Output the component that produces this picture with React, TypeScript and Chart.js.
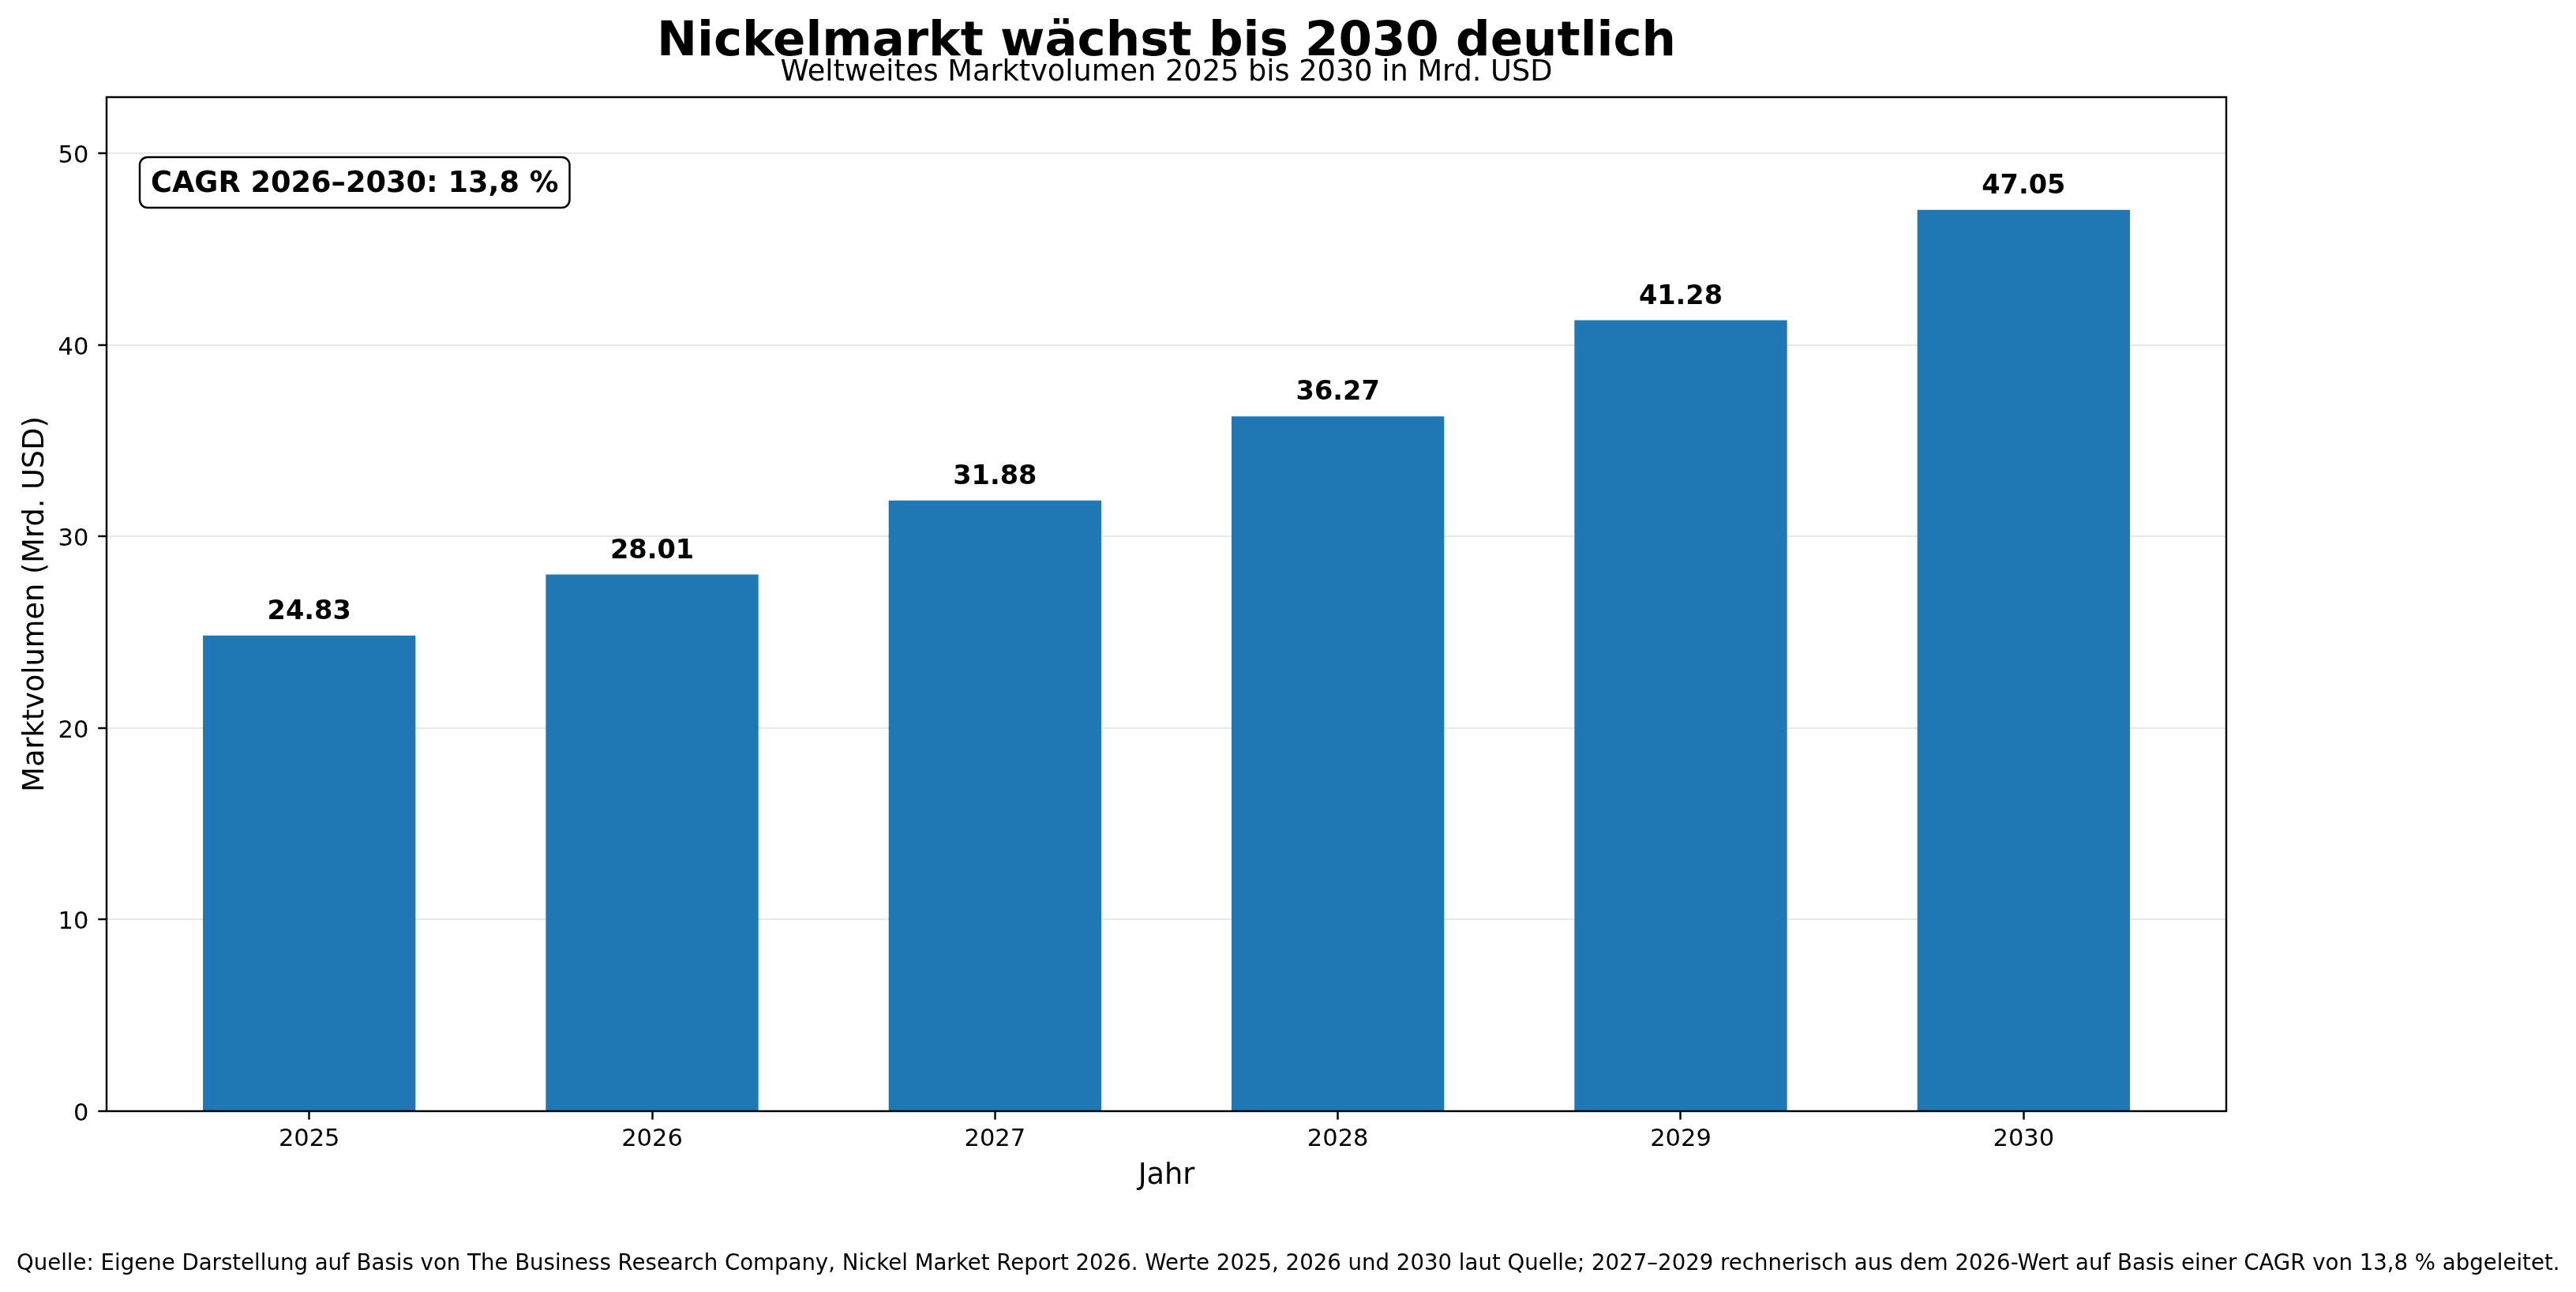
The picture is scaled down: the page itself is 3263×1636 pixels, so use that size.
import React, { useEffect, useRef } from 'react';
import { Chart, registerables } from 'chart.js';

Chart.register(...registerables);

const TITLE = 'Nickelmarkt wächst bis 2030 deutlich';
const SUBTITLE = 'Weltweites Marktvolumen 2025 bis 2030 in Mrd. USD';
const Y_LABEL = 'Marktvolumen (Mrd. USD)';
const X_LABEL = 'Jahr';
const CAGR_LABEL = 'CAGR 2026–2030: 13,8 %';
const SOURCE =
  'Quelle: Eigene Darstellung auf Basis von The Business Research Company, Nickel Market Report 2026. Werte 2025, 2026 und 2030 laut Quelle; 2027–2029 rechnerisch aus dem 2026-Wert auf Basis einer CAGR von 13,8 % abgeleitet.';

const years = ['2025', '2026', '2027', '2028', '2029', '2030'];
const marketVolume = [24.83, 28.01, 31.88, 36.27, 41.28, 47.05];
const yTicks = [0, 10, 20, 30, 40, 50];
const Y_MAX = 52.93;
const X_MIN = -0.591;
const X_MAX = 5.591;
const BAR_WIDTH = 0.62;

const W = 3263;
const H = 1636;
const FONT = '"DejaVu Sans", sans-serif';
const BAR_COLOR = '#1f77b4';

const annotations = {
  id: 'annotations',
  afterDatasetsDraw(chart: any) {
    const { ctx, chartArea: a, scales } = chart;
    ctx.save();
    ctx.fillStyle = '#000';

    // value labels
    ctx.font = `bold 33.6px ${FONT}`;
    ctx.textAlign = 'center';
    ctx.textBaseline = 'alphabetic';
    marketVolume.forEach((v, i) => {
      const x = scales.x.getPixelForValue(i);
      const y = scales.y.getPixelForValue(v);
      ctx.fillText(v.toFixed(2), x, y - 21);
    });

    // frame
    ctx.strokeStyle = '#000';
    ctx.lineWidth = 2.44;
    ctx.strokeRect(a.left, a.top, a.right - a.left, a.bottom - a.top);

    // CAGR box
    ctx.font = `bold 36.7px ${FONT}`;
    ctx.textAlign = 'left';
    const tx = a.left + 56;
    const tb = a.top + 120;
    const tw = ctx.measureText(CAGR_LABEL).width;
    const bx = tx - 14;
    const by = a.top + 76;
    const bw = tw + 28;
    const bh = 64;
    ctx.beginPath();
    ctx.roundRect(bx, by, bw, bh, 10);
    ctx.fillStyle = '#fff';
    ctx.fill();
    ctx.lineWidth = 2.44;
    ctx.strokeStyle = '#000';
    ctx.stroke();
    ctx.fillStyle = '#000';
    ctx.fillText(CAGR_LABEL, tx, tb);

    // titles
    const cx = (a.left + a.right) / 2;
    ctx.textAlign = 'center';
    ctx.font = `bold 61px ${FONT}`;
    ctx.fillText(TITLE, cx, 70);
    ctx.font = `36.7px ${FONT}`;
    ctx.fillText(SUBTITLE, cx, 102);

    // axis titles
    ctx.font = `36.7px ${FONT}`;
    ctx.fillText(X_LABEL, cx, 1499);
    ctx.save();
    ctx.translate(55, (a.top + a.bottom) / 2);
    ctx.rotate(-Math.PI / 2);
    ctx.fillText(Y_LABEL, 0, 0);
    ctx.restore();

    // source
    ctx.textAlign = 'left';
    ctx.font = `27.6px ${FONT}`;
    ctx.fillText(SOURCE, 21, 1608);

    ctx.restore();
  },
};

export default function App() {
  const ref = useRef<HTMLCanvasElement>(null);

  useEffect(() => {
    document.body.style.margin = '0';
    const canvas = ref.current;
    if (!canvas) return;
    const chart = new Chart(canvas, {
      type: 'bar',
      data: {
        datasets: [
          {
            data: marketVolume.map((v, i) => ({ x: i, y: v })),
            backgroundColor: BAR_COLOR,
            borderWidth: 0,
            barPercentage: BAR_WIDTH,
            categoryPercentage: 1,
          },
        ],
      },
      options: {
        animation: false,
        responsive: false,
        devicePixelRatio: 1,
        layout: { padding: { top: 123, right: W - 2820, left: 0, bottom: 0 } },
        plugins: { legend: { display: false }, tooltip: { enabled: false }, title: { display: false } },
        scales: {
          x: {
            type: 'linear',
            offset: false,
            min: X_MIN,
            max: X_MAX,
            afterBuildTicks: (s: any) => {
              s.ticks = years.map((_, i) => ({ value: i }));
            },
            afterFit: (s: any) => {
              s.height = H - 1407;
            },
            ticks: {
              callback: (v: any) => years[v] ?? '',
              font: { family: FONT, size: 30.5 },
              color: '#000',
              padding: 7,
              maxRotation: 0,
              autoSkip: false,
            },
            grid: {
              offset: false,
              drawOnChartArea: false,
              color: 'rgba(0,0,0,0)',
              tickColor: '#000',
              tickLength: 10.7,
              tickWidth: 2.44,
            },
            border: { display: false },
          },
          y: {
            type: 'linear',
            min: 0,
            max: Y_MAX,
            afterBuildTicks: (s: any) => {
              s.ticks = yTicks.map((v) => ({ value: v }));
            },
            afterFit: (s: any) => {
              s.width = 135;
            },
            ticks: {
              font: { family: FONT, size: 30.5 },
              color: '#000',
              padding: 12,
              labelOffset: 4,
            },
            grid: {
              color: '#e8e8e8',
              lineWidth: 2,
              tickColor: '#000',
              tickLength: 10.7,
              tickWidth: 2.44,
            },
            border: { display: false },
          },
        },
      },
      plugins: [annotations],
    } as any);
    return () => chart.destroy();
  }, []);

  return (
    <div style={{ width: W, height: H, background: '#fff' }}>
      <canvas ref={ref} width={W} height={H} style={{ display: 'block', width: W, height: H }} />
    </div>
  );
}
